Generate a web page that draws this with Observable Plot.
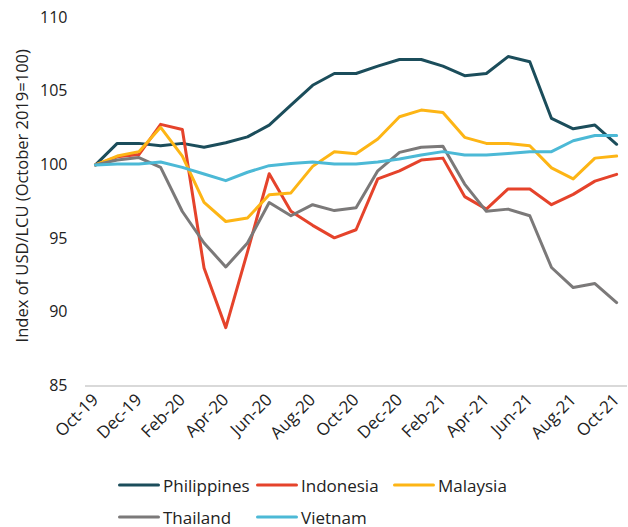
<!DOCTYPE html>
<html>
<head>
<meta charset="utf-8">
<script src="https://cdn.jsdelivr.net/npm/d3@7"></script>
<script src="https://cdn.jsdelivr.net/npm/@observablehq/plot@0.6"></script>
<style>
  html, body { margin: 0; padding: 0; background: #fff; }
  body { width: 628px; height: 527px; overflow: hidden; font-family: "Open Sans", sans-serif; }
  #chart svg { display: block; }
  #chart g[aria-label="x-axis tick label"] text { font-size: 17px; }
  .legend { position: relative; height: 72px; font-size: 17px; color: #222; }
  .item { position: absolute; display: flex; align-items: center; transform: translateY(-50%); line-height: 1; }
  .sw { width: 42px; height: 3.5px; border-radius: 2px; margin-right: 3px; }
</style>
</head>
<body>
<div id="chart"></div>
<div class="legend" id="legend"></div>
<script>
const months = ["Oct-19","Nov-19","Dec-19","Jan-20","Feb-20","Mar-20","Apr-20","May-20","Jun-20","Jul-20","Aug-20","Sep-20","Oct-20","Nov-20","Dec-20","Jan-21","Feb-21","Mar-21","Apr-21","May-21","Jun-21","Jul-21","Aug-21","Sep-21","Oct-21"];
const countries = ["Philippines","Indonesia","Malaysia","Thailand","Vietnam"];
const colors = ["#1b4d5b","#e5432b","#fdb515","#7b7979","#4cb9d6"];
const philippines = [100,101.46,101.46,101.3,101.46,101.2,101.5,101.9,102.7,104.05,105.4,106.2,106.2,106.7,107.15,107.15,106.7,106.05,106.2,107.35,107.0,103.15,102.45,102.7,101.4];
const indonesia  = [100,100.55,100.7,102.75,102.4,93.0,88.96,94.1,99.4,96.85,95.9,95.05,95.6,99.05,99.6,100.33,100.46,97.85,97.0,98.37,98.37,97.3,98.0,98.9,99.36];
const malaysia   = [100,100.6,100.9,102.55,100.6,97.45,96.16,96.4,97.97,98.1,99.9,100.9,100.75,101.76,103.27,103.72,103.56,101.87,101.46,101.46,101.3,99.8,99.05,100.46,100.6];
const thailand   = [100,100.33,100.5,99.83,96.84,94.7,93.08,94.7,97.45,96.55,97.3,96.9,97.1,99.6,100.85,101.2,101.26,98.7,96.85,97.0,96.55,93.04,91.68,91.95,90.66];
const vietnam    = [100,100.06,100.06,100.2,99.83,99.38,98.93,99.5,99.95,100.1,100.2,100.06,100.06,100.2,100.4,100.67,100.9,100.67,100.67,100.78,100.9,100.9,101.64,102.0,102.0];
const yTicks = [85,90,95,100,105,110];
const xTicks = [0,2,4,6,8,10,12,14,16,18,20,22,24];
const yTitle = "Index of USD/LCU (October 2019=100)";

const series = [philippines, indonesia, malaysia, thailand, vietnam];
const rows = [];
series.forEach((vals, s) => vals.forEach((v, i) => rows.push({country: countries[s], i, month: months[i], value: v})));

const font = "'Open Sans', sans-serif";
const chart = Plot.plot({
  width: 628,
  height: 455,
  marginLeft: 85,
  marginRight: 1,
  marginTop: 17,
  marginBottom: 69.5,
  style: {fontFamily: font, fontSize: "16px", color: "#222", background: "#fff", overflow: "visible"},
  x: {domain: [-0.46, 24.5], ticks: xTicks, tickFormat: i => months[i], tickRotate: -45, tickSize: 0, tickPadding: 11, label: null},
  y: {domain: [85, 110], ticks: yTicks, tickSize: 0, tickPadding: 18, label: null},
  color: {domain: countries, range: colors},
  marks: [
    Plot.ruleY([85], {stroke: "#d9d9d9", strokeWidth: 2}),
    Plot.line(rows, {x: "i", y: "value", z: "country", stroke: "country", strokeWidth: 3, strokeLinejoin: "round", strokeLinecap: "round"}),
    Plot.text([yTitle], {text: d => d, frameAnchor: "left", textAnchor: "middle", dx: -63, dy: -6, rotate: -90, fontSize: 16.5, fill: "#222"})
  ]
});
document.getElementById("chart").appendChild(chart);

const legendPos = [[118, 30], [256, 30], [393, 30], [118, 62], [256, 62]];
const lg = document.getElementById("legend");
countries.forEach((c, k) => {
  const it = document.createElement("div");
  it.className = "item";
  it.style.left = legendPos[k][0] + "px";
  it.style.top = legendPos[k][1] + "px";
  it.innerHTML = `<span class="sw" style="background:${colors[k]}"></span><span>${c}</span>`;
  lg.appendChild(it);
});
</script>
</body>
</html>
